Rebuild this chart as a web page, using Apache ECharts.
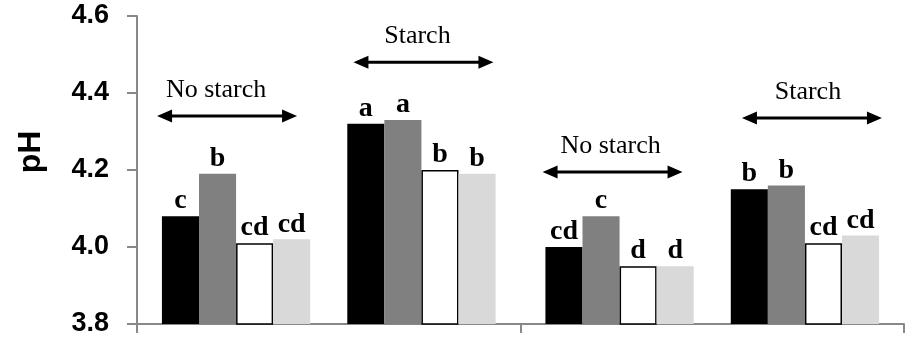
<!DOCTYPE html>
<html>
<head>
<meta charset="utf-8">
<script src="https://cdn.jsdelivr.net/npm/echarts@6/dist/echarts.min.js"></script>
<style>
html,body{margin:0;padding:0;background:#fff;}
#chart{width:907px;height:350px;}
</style>
</head>
<body>
<div id="chart"></div>
<script>
// ---- data ----
const categories = ['Period 1', 'Period 2'];
const treatmentNames = ['Treatment 1', 'Treatment 2', 'Treatment 3', 'Treatment 4'];

const noStarchT1 = [4.08, 4.00];
const noStarchT2 = [4.19, 4.08];
const noStarchT3 = [4.01, 3.95];
const noStarchT4 = [4.02, 3.95];

const starchT1 = [4.32, 4.15];
const starchT2 = [4.33, 4.16];
const starchT3 = [4.20, 4.01];
const starchT4 = [4.19, 4.03];

const noStarchLettersT1 = ['c', 'cd'];
const noStarchLettersT2 = ['b', 'c'];
const noStarchLettersT3 = ['cd', 'd'];
const noStarchLettersT4 = ['cd', 'd'];

const starchLettersT1 = ['a', 'b'];
const starchLettersT2 = ['a', 'b'];
const starchLettersT3 = ['b', 'cd'];
const starchLettersT4 = ['b', 'cd'];

const yTicks = [3.8, 4.0, 4.2, 4.4, 4.6];
const yAxisTitle = 'pH';

const arrowLabels = ['No starch', 'Starch', 'No starch', 'Starch'];
const arrowLevels = [4.34, 4.48, 4.195, 4.335];

// ---- styling / layout ----
const colors = ['#000000', '#808080', '#ffffff', '#d9d9d9'];
const axisColor = '#888888';
const gapPct = 13;
const slotsPerCat = 9;
const arrowShiftPx = [-9, 2, -7, 7];
const textShiftPx = [-11, -6, -2, -4];

function barSeries(name, data, letters, idx) {
  const white = colors[idx] === '#ffffff';
  return {
    name: name,
    type: 'bar',
    data: data,
    barGap: '0%',
    barCategoryGap: gapPct + '%',
    itemStyle: {
      color: colors[idx],
      borderColor: white ? '#000000' : colors[idx],
      borderWidth: white ? 1.5 : 0
    },
    label: {
      show: true,
      position: 'top',
      distance: 1,
      formatter: p => letters[p.dataIndex],
      fontFamily: 'Liberation Serif',
      fontWeight: 'bold',
      fontSize: 28,
      color: '#000'
    },
    emphasis: { disabled: true }
  };
}

const noStarch = [noStarchT1, noStarchT2, noStarchT3, noStarchT4];
const noStarchL = [noStarchLettersT1, noStarchLettersT2, noStarchLettersT3, noStarchLettersT4];
const starch = [starchT1, starchT2, starchT3, starchT4];
const starchL = [starchLettersT1, starchLettersT2, starchLettersT3, starchLettersT4];

const series = [];
noStarch.forEach((d, i) => series.push(barSeries(treatmentNames[i] + ' (no starch)', d, noStarchL[i], i)));
series.push({ name: 'gap', type: 'bar', data: ['-', '-'], barGap: '0%', barCategoryGap: gapPct + '%', silent: true });
starch.forEach((d, i) => series.push(barSeries(treatmentNames[i] + ' (starch)', d, starchL[i], i)));

// group center in category units (hidden value axis 0..2)
const slot = (1 - gapPct / 100) / slotsPerCat;
function groupCenter(i) {
  const cat = Math.floor(i / 2);
  const side = i % 2 === 0 ? -1 : 1;
  return cat + 0.5 + side * 2.5 * slot;
}

series.push({
  type: 'custom',
  xAxisIndex: 1,
  yAxisIndex: 0,
  clip: false,
  silent: true,
  data: arrowLevels.map((v, i) => [groupCenter(i), v, i]),
  renderItem: function (params, api) {
    const k = api.value(2);
    const c = api.coord([api.value(0), api.value(1)]);
    const half = 70, head = 15, hh = 6.5;
    const x0 = c[0] + arrowShiftPx[k], y0 = c[1];
    return {
      type: 'group',
      children: [
        { type: 'line', shape: { x1: x0 - half + head - 1, y1: y0, x2: x0 + half - head + 1, y2: y0 },
          style: { stroke: '#000', lineWidth: 3 } },
        { type: 'polygon', shape: { points: [[x0 - half, y0], [x0 - half + head, y0 - hh], [x0 - half + head, y0 + hh]] },
          style: { fill: '#000' } },
        { type: 'polygon', shape: { points: [[x0 + half, y0], [x0 + half - head, y0 - hh], [x0 + half - head, y0 + hh]] },
          style: { fill: '#000' } },
        { type: 'text', x: x0 + textShiftPx[k], y: y0 - 26,
          style: { text: arrowLabels[k], fill: '#000', font: '26px "Liberation Serif"',
                   align: 'center', verticalAlign: 'middle' } }
      ]
    };
  }
});

const chart = echarts.init(document.getElementById('chart'), null, { renderer: 'canvas' });
chart.setOption({
  animation: false,
  backgroundColor: '#fff',
  grid: { left: 137, right: 3, top: 16, bottom: 26, containLabel: false },
  xAxis: [
    {
      type: 'category',
      data: categories,
      boundaryGap: true,
      axisLine: { lineStyle: { color: axisColor, width: 2 } },
      axisTick: { show: true, length: 9, lineStyle: { color: axisColor, width: 2 } },
      axisLabel: { show: false },
      splitLine: { show: false }
    },
    { type: 'value', min: 0, max: 2, show: false }
  ],
  yAxis: {
    type: 'value',
    min: yTicks[0],
    max: yTicks[yTicks.length - 1],
    interval: 0.2,
    axisLine: { show: true, lineStyle: { color: axisColor, width: 2 } },
    axisTick: { show: true, length: 10, lineStyle: { color: axisColor, width: 2 } },
    splitLine: { show: false },
    axisLabel: {
      margin: 28,
      formatter: v => v.toFixed(1),
      fontFamily: 'Liberation Sans',
      fontWeight: 'bold',
      fontSize: 27,
      color: '#000'
    }
  },
  graphic: [{
    type: 'text',
    x: 31, y: 152,
    rotation: Math.PI / 2,
    style: { text: yAxisTitle, font: 'bold 32px "Liberation Sans"', fill: '#000', align: 'center', verticalAlign: 'middle' }
  }],
  series: series
});
</script>
</body>
</html>
